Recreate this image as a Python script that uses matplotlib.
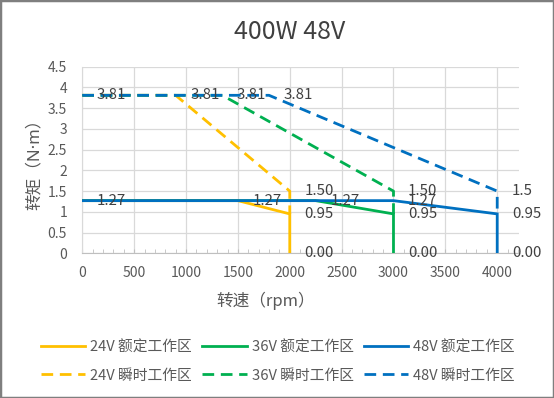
import matplotlib
matplotlib.use("Agg")
import matplotlib.pyplot as plt
from matplotlib.patches import Rectangle
from matplotlib.ticker import MultipleLocator

plt.rcParams['font.family'] = ['Noto Sans CJK SC', 'DejaVu Sans']

title = "400W 48V"
xlabel = "转速（rpm）"
ylabel = "转矩（N·m）"

# Rated (solid) curves
x24_rated = [0, 1500, 2000, 2000]
y24_rated = [1.27, 1.27, 0.95, 0.0]
x36_rated = [0, 2250, 3000, 3000]
y36_rated = [1.27, 1.27, 0.95, 0.0]
x48_rated = [0, 3000, 4000, 4000]
y48_rated = [1.27, 1.27, 0.95, 0.0]

# Peak (dashed) curves
x24_peak = [0, 900, 2000, 2000]
y24_peak = [3.81, 3.81, 1.50, 0.95]
x36_peak = [0, 1350, 3000, 3000]
y36_peak = [3.81, 3.81, 1.50, 0.95]
x48_peak = [0, 1800, 4000, 4000]
y48_peak = [3.81, 3.81, 1.50, 0.95]

names = ["24V 额定工作区", "36V 额定工作区", "48V 额定工作区",
         "24V 瞬时工作区", "36V 瞬时工作区", "48V 瞬时工作区"]

# data labels: index -> text
labels24_rated = {1: "1.27", 2: "0.95", 3: "0.00"}
labels36_rated = {1: "1.27", 2: "0.95", 3: "0.00"}
labels48_rated = {0: "1.27", 1: "1.27", 2: "0.95", 3: "0.00"}
labels24_peak = {1: "3.81", 2: "1.50"}
labels36_peak = {1: "3.81", 2: "1.50"}
labels48_peak = {0: "3.81", 1: "3.81", 2: "1.5"}

xticks = [0, 500, 1000, 1500, 2000, 2500, 3000, 3500, 4000]
yticks = [0, 0.5, 1, 1.5, 2, 2.5, 3, 3.5, 4, 4.5]

c24 = "#FFC000"
c36 = "#00B050"
c48 = "#0070C0"

fig = plt.figure(figsize=(5.54, 3.98), dpi=100)
ax = fig.add_axes([82.3 / 554, 1 - 253.3 / 398, (519 - 82.3) / 554, (253.3 - 66.7) / 398])

series = [
    (x24_rated, y24_rated, c24, '-', labels24_rated),
    (x36_rated, y36_rated, c36, '-', labels36_rated),
    (x48_rated, y48_rated, c48, '-', labels48_rated),
    (x24_peak, y24_peak, c24, '--', labels24_peak),
    (x36_peak, y36_peak, c36, '--', labels36_peak),
    (x48_peak, y48_peak, c48, '--', labels48_peak),
]
handles = []
for i, (xs, ys, col, ls, labs) in enumerate(series):
    if ls == '-':
        h, = ax.plot(xs, ys, color=col, lw=2.0, solid_joinstyle='miter', zorder=3 + i)
    else:
        h, = ax.plot(xs, ys, color=col, lw=2.0, linestyle=(0, (4.2, 2.4)), zorder=3 + i)
    handles.append(h)

for i, (xs, ys, col, ls, labs) in enumerate(series):
    for idx, txt in labs.items():
        ax.annotate(txt, (xs[idx], ys[idx]), xytext=(10.5, 0), textcoords='offset points',
                    ha='left', va='center', fontsize=10.8, color="#404040", zorder=20,
                    annotation_clip=False)

ax.set_xlim(0, 4210)
ax.set_ylim(0, 4.5)
ax.set_xticks(xticks)
ax.set_yticks(yticks)
ax.set_yticklabels([f"{v:g}" for v in yticks])
ax.xaxis.set_minor_locator(MultipleLocator(100))
ax.grid(True, which='major', color="#d9d9d9", lw=0.9, zorder=0)
ax.set_axisbelow(True)
for s in ['top', 'right']:
    ax.spines[s].set_visible(False)
ax.spines['left'].set_color("#d9d9d9")
ax.spines['bottom'].set_color("#bfbfbf")
ax.tick_params(axis='x', which='both', direction='in', length=3, color="#bfbfbf",
               labelsize=10, labelcolor="#595959", pad=9)
ax.tick_params(axis='y', which='both', length=0, labelsize=10, labelcolor="#595959", pad=11)

ax.set_xlabel(xlabel, fontsize=12, color="#595959")
ax.xaxis.set_label_coords(0.42, -0.205)
ax.set_ylabel(ylabel, fontsize=12, color="#595959", family=['Noto Sans', 'Noto Sans CJK SC'])
ax.yaxis.set_label_coords(-0.09, 0.5)

fig.text(290 / 554, 1 - 32 / 398, title, ha='center', va='center', fontsize=18, color="#404040")

order = [0, 3, 1, 4, 2, 5]
fig.legend([handles[i] for i in order], [names[i] for i in order], ncol=3,
           loc='center', bbox_to_anchor=(278 / 554, 1 - 361.5 / 398), frameon=False,
           fontsize=10.6, labelcolor="#595959", handlelength=3.0, handletextpad=0.35,
           columnspacing=0.7, labelspacing=0.95)

fig.add_artist(Rectangle((0, 0), 1, 1, transform=fig.transFigure, fill=False,
                         edgecolor="#7f7f7f", lw=2.5, zorder=50))

fig.savefig("out.png", dpi=100)
